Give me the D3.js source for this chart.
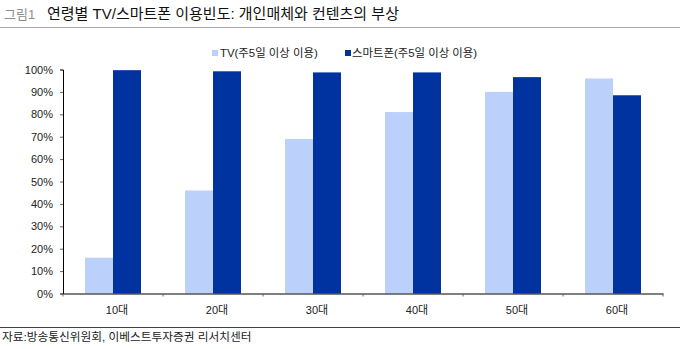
<!DOCTYPE html>
<html><head><meta charset="utf-8">
<script src="https://cdn.jsdelivr.net/npm/d3@7"></script>
<style>
body{margin:0;background:#fff;}
text{font-family:"Liberation Sans","Noto Sans CJK KR",sans-serif;}
</style></head>
<body><svg id="c" width="680" height="349"></svg>
<script>
const categories = ["10대","20대","30대","40대","50대","60대"];
const seriesNames = ["TV(주5일 이상 이용)","스마트폰(주5일 이상 이용)"];
const tvValues = [16, 46, 69, 81, 90, 96];
const phoneValues = [99.7, 99.2, 98.7, 98.7, 96.6, 88.5];
const yTicks = [0,10,20,30,40,50,60,70,80,90,100];
const colors = ["#BBD1FB","#0033A0"];

const svg = d3.select("#c");
const m = {l:63, r:17};
const W = 680, H = 349;
const x = d3.scaleBand().domain(categories).range([m.l, W-m.r]).paddingInner(0).paddingOuter(0);
const y = d3.scaleLinear().domain([0,100]).range([293.5, 69.5]);
const barW = 28;

// title
svg.append("text").attr("x",4).attr("y",19).attr("font-size",13).attr("fill","#8c8c8c").text("그림1");
svg.append("text").attr("x",47).attr("y",19).attr("font-size",15).attr("fill","#111").text("연령별 TV/스마트폰 이용빈도: 개인매체와 컨텐츠의 부상");
svg.append("line").attr("x1",0).attr("x2",W).attr("y1",27.5).attr("y2",27.5).attr("stroke","#aaa").attr("stroke-width",1);

// legend
const leg = [{x:212, tx:220},{x:345, tx:352}];
seriesNames.forEach((s,i)=>{
  svg.append("rect").attr("x",leg[i].x).attr("y",50).attr("width",6).attr("height",6).attr("fill",colors[i]);
  svg.append("text").attr("x",leg[i].tx).attr("y",57).attr("font-size",11.4).attr("fill","#222").text(s);
});

// bars
const data = categories.map((c,i)=>({c, v:[tvValues[i], phoneValues[i]]}));
const g = svg.append("g");
data.forEach(d=>{
  const cx = x(d.c) + x.bandwidth()/2;
  d.v.forEach((v,j)=>{
    g.append("rect").attr("x", cx - barW + j*barW).attr("y", y(v))
      .attr("width", barW).attr("height", y(0)-y(v)).attr("fill", colors[j]);
  });
});

// y axis
const ya = svg.append("g").attr("transform",`translate(${m.l},0)`)
  .call(d3.axisLeft(y).tickValues(yTicks).tickFormat(d=>d+"%").tickSize(3).tickPadding(7));
ya.select(".domain").attr("stroke","#000");
ya.selectAll(".tick line").attr("stroke","#666");
ya.selectAll("text").attr("font-size",11).attr("fill","#222");

// x axis
const xa = svg.append("g").attr("transform",`translate(0,${y(0)})`)
  .call(d3.axisBottom(x).tickSize(0).tickPadding(13));
xa.select(".domain").attr("stroke","#000");
xa.selectAll("text").attr("font-size",11).attr("fill","#222").attr("dx",4);
const bounds = categories.map(c=>x(c)).concat([x(categories[categories.length-1])+x.bandwidth()]);
xa.selectAll(".bt").data(bounds).enter().append("line").attr("class","bt")
  .attr("x1",d=>d).attr("x2",d=>d).attr("y1",0).attr("y2",3).attr("stroke","#666");

// source
svg.append("line").attr("x1",0).attr("x2",W).attr("y1",327.5).attr("y2",327.5).attr("stroke","#444").attr("stroke-width",1.2);
svg.append("text").attr("x",2).attr("y",341).attr("font-size",11.7).attr("fill","#222").text("자료:방송통신위원회, 이베스트투자증권 리서치센터");
</script></body></html>
